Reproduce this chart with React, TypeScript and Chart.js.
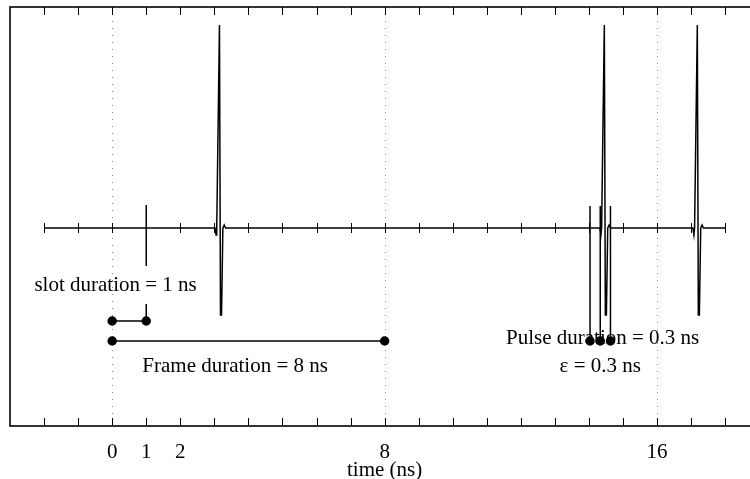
import React, { useEffect, useRef } from "react";
import { Chart, registerables } from "chart.js";

Chart.register(...registerables);

// ---- scale ranges ----
const X_MIN = -3;
const X_MAX = 19;
const Y_MIN = -1.98;
const Y_MAX = 2.21;

// ---- axis / tick data ----
const TICK_LABEL_VALUES = [0, 1, 2, 8, 16];
const MINOR_TICKS = [-2, -1, 0, 1, 2, 3, 4, 5, 6, 7, 8, 9, 10, 11, 12, 13, 14, 15, 16, 17, 18];
const DOTTED_LINES = [0, 8, 16];
const AXIS_TITLE = "time (ns)";

// ---- signal (time in ns, amplitude in arbitrary units) ----
const BASE_START = [-2];
const BASE_END = [18];
const PULSE_SHAPE_Y = [0, -0.07, 0, 2.03, -0.87, -0.87, 0, 0.03, 0];
const PULSE_1_X = [3.02, 3.05, 3.07, 3.15, 3.18, 3.21, 3.25, 3.29, 3.33];
const PULSE_2_X = [14.32, 14.35, 14.37, 14.45, 14.48, 14.51, 14.55, 14.59, 14.63];
const PULSE_3_X = [17.05, 17.08, 17.1, 17.18, 17.21, 17.24, 17.28, 17.32, 17.36];

// ---- annotation markers ----
const SLOT_X = [0, 1];
const SLOT_Y = -0.93;
const FRAME_X = [0, 8];
const FRAME_Y = -1.13;
const SLOT_LINE_UPPER = [0.23, -0.38];
const SLOT_LINE_LOWER = [-0.76, -0.93];
const PULSE_MARK_X = [14.03, 14.33, 14.63];
const PULSE_MARK_TOP = 0.22;
const PULSE_MARK_BOTTOM = -1.13;

// ---- annotation texts ----
const LABEL_TEXTS = ["slot duration = 1 ns", "Frame duration = 8 ns", "Pulse duration = 0.3 ns", "ε = 0.3 ns"];
const LABEL_X = [0.1, 3.61, 14.4, 14.33];
const LABEL_Y = [-0.57, -1.38, -1.1, -1.38];

const FONT_FAMILY = "'Liberation Serif', 'Times New Roman', serif";
const FONT_SIZE = 21;

export default function App() {
  const canvasRef = useRef<HTMLCanvasElement | null>(null);

  useEffect(() => {
    const canvas = canvasRef.current;
    if (!canvas) return;

    const signal: { x: number; y: number }[] = [];
    signal.push({ x: BASE_START[0], y: 0 });
    [PULSE_1_X, PULSE_2_X, PULSE_3_X].forEach((xs) => {
      xs.forEach((x, i) => signal.push({ x, y: PULSE_SHAPE_Y[i] }));
    });
    signal.push({ x: BASE_END[0], y: 0 });

    const lineStyle = {
      borderColor: "#000",
      backgroundColor: "#000",
      borderWidth: 1.5,
      fill: false,
      tension: 0,
    };

    const datasets: any[] = [
      { ...lineStyle, data: signal, pointRadius: 0 },
      { ...lineStyle, data: SLOT_X.map((x) => ({ x, y: SLOT_Y })), pointRadius: 4 },
      { ...lineStyle, data: FRAME_X.map((x) => ({ x, y: FRAME_Y })), pointRadius: 4 },
      { ...lineStyle, data: SLOT_LINE_UPPER.map((y) => ({ x: SLOT_X[1], y })), pointRadius: 0 },
      { ...lineStyle, data: SLOT_LINE_LOWER.map((y) => ({ x: SLOT_X[1], y })), pointRadius: 0 },
      ...PULSE_MARK_X.map((x) => ({
        ...lineStyle,
        data: [
          { x, y: PULSE_MARK_TOP },
          { x, y: PULSE_MARK_BOTTOM },
        ],
        pointRadius: [0, 4],
      })),
    ];

    const decor = {
      id: "decor",
      beforeDatasetsDraw(chart: any) {
        const { ctx, chartArea, scales } = chart;
        const xs = scales.x;
        const ys = scales.y;
        ctx.save();
        // dotted verticals
        ctx.strokeStyle = "#888";
        ctx.lineWidth = 1;
        ctx.setLineDash([1, 6]);
        DOTTED_LINES.forEach((v) => {
          const px = Math.round(xs.getPixelForValue(v)) + 0.5;
          ctx.beginPath();
          ctx.moveTo(px, chartArea.top);
          ctx.lineTo(px, chartArea.bottom);
          ctx.stroke();
        });
        ctx.setLineDash([]);
        // ticks on middle axis and borders
        ctx.strokeStyle = "#000";
        ctx.lineWidth = 1;
        const y0 = ys.getPixelForValue(0);
        MINOR_TICKS.forEach((v) => {
          const px = Math.round(xs.getPixelForValue(v)) + 0.5;
          ctx.beginPath();
          ctx.moveTo(px, y0 - 5);
          ctx.lineTo(px, y0 + 5);
          ctx.moveTo(px, chartArea.top);
          ctx.lineTo(px, chartArea.top + 8);
          ctx.moveTo(px, chartArea.bottom);
          ctx.lineTo(px, chartArea.bottom - 8);
          ctx.stroke();
        });
        // frame box
        ctx.lineWidth = 1.6;
        ctx.strokeRect(chartArea.left, chartArea.top, chartArea.right - chartArea.left, chartArea.bottom - chartArea.top);
        ctx.restore();
      },
      afterDatasetsDraw(chart: any) {
        const { ctx, scales } = chart;
        ctx.save();
        ctx.fillStyle = "#000";
        ctx.font = `${FONT_SIZE}px ${FONT_FAMILY}`;
        ctx.textAlign = "center";
        ctx.textBaseline = "middle";
        LABEL_TEXTS.forEach((t, i) => {
          ctx.fillText(t, scales.x.getPixelForValue(LABEL_X[i]), scales.y.getPixelForValue(LABEL_Y[i]));
        });
        ctx.restore();
      },
    };

    const chart = new Chart(canvas, {
      type: "line",
      data: { datasets },
      options: {
        animation: false,
        responsive: false,
        devicePixelRatio: 1,
        layout: { padding: { left: 10, top: 7, right: 20.7, bottom: 0 } },
        plugins: { legend: { display: false }, tooltip: { enabled: false } },
        scales: {
          x: {
            type: "linear",
            min: X_MIN,
            max: X_MAX,
            grid: { display: false, drawTicks: false },
            border: { display: false },
            afterBuildTicks: (scale: any) => {
              scale.ticks = TICK_LABEL_VALUES.map((v) => ({ value: v }));
            },
            ticks: {
              autoSkip: false,
              maxRotation: 0,
              padding: 16,
              color: "#000",
              font: { family: FONT_FAMILY, size: FONT_SIZE, lineHeight: 1 },
              callback: (v: any) => String(v),
            },
            title: {
              display: true,
              text: AXIS_TITLE,
              color: "#000",
              font: { family: FONT_FAMILY, size: FONT_SIZE, lineHeight: 1 },
              padding: { top: -19, bottom: -2 },
            },
          },
          y: {
            type: "linear",
            display: false,
            min: Y_MIN,
            max: Y_MAX,
          },
        },
      },
      plugins: [decor],
    });

    return () => chart.destroy();
  }, []);

  return (
    <div style={{ position: "absolute", left: 0, top: 0, width: 750, height: 479, overflow: "hidden", background: "#fff" }}>
      <canvas ref={canvasRef} width={780} height={479} style={{ display: "block" }} />
    </div>
  );
}
